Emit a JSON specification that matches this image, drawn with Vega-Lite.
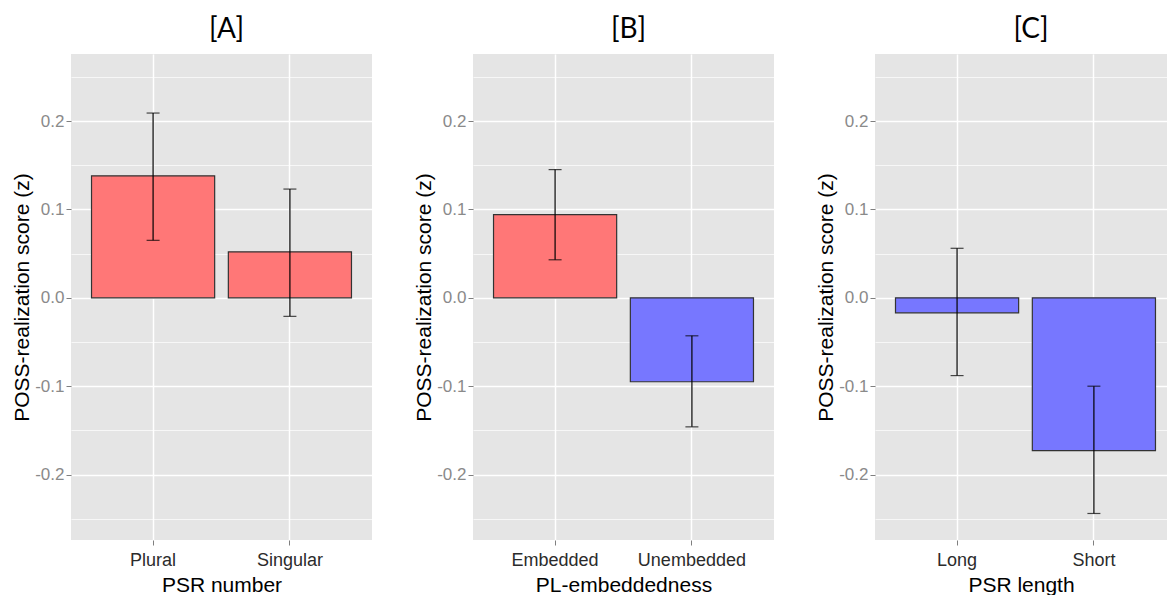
{
  "$schema": "https://vega.github.io/schema/vega-lite/v6.json",
  "padding": {"left": 11, "top": 16, "right": 0, "bottom": 0},
  "bounds": "flush",
  "spacing": 101,
  "datasets": {
    "bars": [
      {"panel": "A", "cat": "Plural", "mean": 0.138, "lo": 0.065, "hi": 0.209, "sign": "pos"},
      {"panel": "A", "cat": "Singular", "mean": 0.052, "lo": -0.021, "hi": 0.123, "sign": "pos"},
      {"panel": "B", "cat": "Embedded", "mean": 0.094, "lo": 0.043, "hi": 0.145, "sign": "pos"},
      {"panel": "B", "cat": "Unembedded", "mean": -0.095, "lo": -0.146, "hi": -0.043, "sign": "neg"},
      {"panel": "C", "cat": "Long", "mean": -0.017, "lo": -0.088, "hi": 0.056, "sign": "neg"},
      {"panel": "C", "cat": "Short", "mean": -0.173, "lo": -0.244, "hi": -0.100, "sign": "neg"}
    ]
  },
  "config": {
    "view": {"fill": "#E5E5E5", "stroke": null},
    "axis": {
      "domain": false,
      "tickColor": "#7F7F7F",
      "tickSize": 5,
      "labelFont": "Liberation Sans",
      "labelFontSize": 17,
      "titleFont": "Liberation Sans",
      "titleFontSize": 21,
      "titleFontWeight": "normal",
      "titleColor": "#000000",
      "gridColor": "#FFFFFF"
    },
    "title": {"font": "Lato", "fontSize": 28, "fontWeight": "normal", "color": "#000000", "offset": 10, "dx": 5}
  },
  "hconcat": [
    {
      "width": 301, "height": 486,
      "title": "[A]",
      "data": {"name": "bars"},
      "transform": [{"filter": "datum.panel == 'A'"}],
      "encoding": {
        "x": {"field": "cat", "type": "nominal", "sort": null, "title": "PSR number",
          "scale": {"paddingInner": 0.1, "paddingOuter": 0.15},
          "axis": {"labelAngle": 0, "labelColor": "#2B2B2B", "labelFontSize": 18, "labelPadding": 6, "titlePadding": 5, "grid": true, "gridWidth": 1.5, "bandPosition": 0.5}}
      },
      "layer": [
        {"mark": {"type": "bar", "stroke": "#333333", "strokeWidth": 1.2},
          "encoding": {
            "y": {"field": "mean", "type": "quantitative", "title": "POSS-realization score (z)",
              "scale": {"domain": [-0.274, 0.2758], "nice": false, "zero": false},
              "axis": {"values": [-0.25, -0.2, -0.15, -0.1, -0.05, 0, 0.05, 0.1, 0.15, 0.2, 0.25],
                "labelExpr": "abs(datum.value*10-round(datum.value*10))>0.01 ? '' : replace(format(datum.value,'.1f'),'−','-')",
                "labelColor": "#8A8A8A", "labelPadding": 2, "titlePadding": 2,
                "gridWidth": {"condition": {"test": "abs(datum.value*10-round(datum.value*10))>0.01", "value": 0.7}, "value": 1.5},
                "tickOpacity": {"condition": {"test": "abs(datum.value*10-round(datum.value*10))>0.01", "value": 0}, "value": 1}}},
            "color": {"field": "sign", "type": "nominal", "scale": {"domain": ["pos", "neg"], "range": ["#FF7777", "#7777FF"]}, "legend": null}
          }},
        {"mark": {"type": "rule", "color": "#000000", "strokeWidth": 1.2},
          "encoding": {"y": {"field": "lo", "type": "quantitative", "title": "POSS-realization score (z)"}, "y2": {"field": "hi"}}},
        {"mark": {"type": "tick", "color": "#000000", "size": 13, "thickness": 1.2},
          "encoding": {"y": {"field": "lo", "type": "quantitative", "title": "POSS-realization score (z)"}}},
        {"mark": {"type": "tick", "color": "#000000", "size": 13, "thickness": 1.2},
          "encoding": {"y": {"field": "hi", "type": "quantitative", "title": "POSS-realization score (z)"}}}
      ]
    },
    {
      "width": 301, "height": 486,
      "title": "[B]",
      "data": {"name": "bars"},
      "transform": [{"filter": "datum.panel == 'B'"}],
      "encoding": {
        "x": {"field": "cat", "type": "nominal", "sort": null, "title": "PL-embeddedness",
          "scale": {"paddingInner": 0.1, "paddingOuter": 0.15},
          "axis": {"labelAngle": 0, "labelColor": "#2B2B2B", "labelFontSize": 18, "labelPadding": 6, "titlePadding": 5, "grid": true, "gridWidth": 1.5, "bandPosition": 0.5}}
      },
      "layer": [
        {"mark": {"type": "bar", "stroke": "#333333", "strokeWidth": 1.2},
          "encoding": {
            "y": {"field": "mean", "type": "quantitative", "title": "POSS-realization score (z)",
              "scale": {"domain": [-0.274, 0.2758], "nice": false, "zero": false},
              "axis": {"values": [-0.25, -0.2, -0.15, -0.1, -0.05, 0, 0.05, 0.1, 0.15, 0.2, 0.25],
                "labelExpr": "abs(datum.value*10-round(datum.value*10))>0.01 ? '' : replace(format(datum.value,'.1f'),'−','-')",
                "labelColor": "#8A8A8A", "labelPadding": 2, "titlePadding": 2,
                "gridWidth": {"condition": {"test": "abs(datum.value*10-round(datum.value*10))>0.01", "value": 0.7}, "value": 1.5},
                "tickOpacity": {"condition": {"test": "abs(datum.value*10-round(datum.value*10))>0.01", "value": 0}, "value": 1}}},
            "color": {"field": "sign", "type": "nominal", "scale": {"domain": ["pos", "neg"], "range": ["#FF7777", "#7777FF"]}, "legend": null}
          }},
        {"mark": {"type": "rule", "color": "#000000", "strokeWidth": 1.2},
          "encoding": {"y": {"field": "lo", "type": "quantitative", "title": "POSS-realization score (z)"}, "y2": {"field": "hi"}}},
        {"mark": {"type": "tick", "color": "#000000", "size": 13, "thickness": 1.2},
          "encoding": {"y": {"field": "lo", "type": "quantitative", "title": "POSS-realization score (z)"}}},
        {"mark": {"type": "tick", "color": "#000000", "size": 13, "thickness": 1.2},
          "encoding": {"y": {"field": "hi", "type": "quantitative", "title": "POSS-realization score (z)"}}}
      ]
    },
    {
      "width": 292, "height": 486,
      "title": {"text": "[C]", "dx": 10},
      "data": {"name": "bars"},
      "transform": [{"filter": "datum.panel == 'C'"}],
      "encoding": {
        "x": {"field": "cat", "type": "nominal", "sort": null, "title": "PSR length",
          "scale": {"paddingInner": 0.1, "paddingOuter": 0.117, "align": 0.64},
          "axis": {"labelAngle": 0, "labelColor": "#2B2B2B", "labelFontSize": 18, "labelPadding": 6, "titlePadding": 5, "grid": true, "gridWidth": 1.5, "bandPosition": 0.5}}
      },
      "layer": [
        {"mark": {"type": "bar", "stroke": "#333333", "strokeWidth": 1.2},
          "encoding": {
            "y": {"field": "mean", "type": "quantitative", "title": "POSS-realization score (z)",
              "scale": {"domain": [-0.274, 0.2758], "nice": false, "zero": false},
              "axis": {"values": [-0.25, -0.2, -0.15, -0.1, -0.05, 0, 0.05, 0.1, 0.15, 0.2, 0.25],
                "labelExpr": "abs(datum.value*10-round(datum.value*10))>0.01 ? '' : replace(format(datum.value,'.1f'),'−','-')",
                "labelColor": "#8A8A8A", "labelPadding": 2, "titlePadding": 2,
                "gridWidth": {"condition": {"test": "abs(datum.value*10-round(datum.value*10))>0.01", "value": 0.7}, "value": 1.5},
                "tickOpacity": {"condition": {"test": "abs(datum.value*10-round(datum.value*10))>0.01", "value": 0}, "value": 1}}},
            "color": {"field": "sign", "type": "nominal", "scale": {"domain": ["pos", "neg"], "range": ["#FF7777", "#7777FF"]}, "legend": null}
          }},
        {"mark": {"type": "rule", "color": "#000000", "strokeWidth": 1.2},
          "encoding": {"y": {"field": "lo", "type": "quantitative", "title": "POSS-realization score (z)"}, "y2": {"field": "hi"}}},
        {"mark": {"type": "tick", "color": "#000000", "size": 13, "thickness": 1.2},
          "encoding": {"y": {"field": "lo", "type": "quantitative", "title": "POSS-realization score (z)"}}},
        {"mark": {"type": "tick", "color": "#000000", "size": 13, "thickness": 1.2},
          "encoding": {"y": {"field": "hi", "type": "quantitative", "title": "POSS-realization score (z)"}}}
      ]
    }
  ]
}
